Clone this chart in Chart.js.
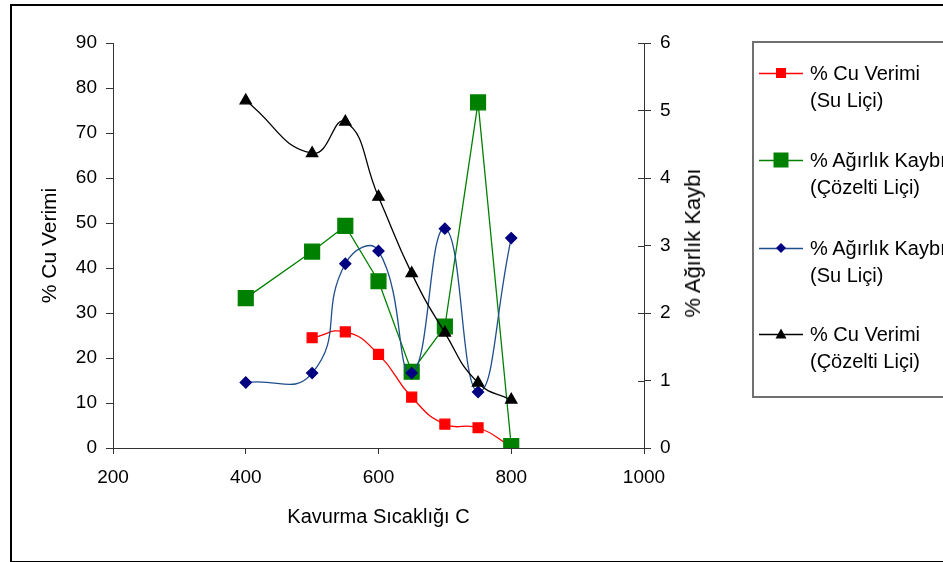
<!DOCTYPE html>
<html>
<head>
<meta charset="utf-8">
<script src="https://cdn.jsdelivr.net/npm/chart.js@4"></script>
<style>
  body { margin: 0; width: 943px; height: 562px; overflow: hidden; background: #fff; font-family: "Liberation Sans", Arial, sans-serif; }
  #frame { position: absolute; left: 10px; top: 4px; width: 1000px; height: 555px; border: 2px solid #000; }
  #chart { position: absolute; left: 0; top: 0; }
  #legendBox { position: absolute; left: 752px; top: 41px; width: 300px; height: 353px; border: 2px solid #707070; }
  .entry { position: absolute; left: 0; }
  .entry svg { position: absolute; left: 759px; }
  .entry .txt { position: absolute; left: 810px; font-size: 20px; line-height: 27px; white-space: nowrap; color: #000; }
  #rightTitle { position: absolute; left: 693px; top: 243px; transform: translate(-50%, -50%) rotate(-90deg); font-size: 22px; white-space: nowrap; color: #000; }
</style>
</head>
<body>
<div id="frame"></div>
<canvas id="chart" width="943" height="562"></canvas>
<div id="legendBox"></div>
<div id="legend"></div>
<div id="rightTitle">% Ağırlık Kaybı</div>
<script>
// data
const temps = [400, 500, 550, 600, 650, 700, 750, 800];
const cuSu = [null, 24.5, 25.8, 20.8, 11.3, 5.3, 4.5, 0.3];      // % Cu Verimi (Su Liçi), left axis
const kayipCoz = [2.22, 2.91, 3.29, 2.47, 1.13, 1.80, 5.12, 0.03]; // % Ağırlık Kaybı (Çözelti Liçi), right axis
const kayipSu = [0.97, 1.11, 2.73, 2.92, 1.11, 3.25, 0.83, 3.11];  // % Ağırlık Kaybı (Su Liçi), right axis
const cuCoz = [77.2, 65.5, 72.5, 55.8, 38.8, 25.6, 14.5, 10.7];    // % Cu Verimi (Çözelti Liçi), left axis

const xTicks = [200, 400, 600, 800, 1000];
const leftTicks = [0, 10, 20, 30, 40, 50, 60, 70, 80, 90];
const rightTicks = [0, 1, 2, 3, 4, 5, 6];

const labels = ['% Cu Verimi|(Su Liçi)', '% Ağırlık Kaybı|(Çözelti Liçi)', '% Ağırlık Kaybı|(Su Liçi)', '% Cu Verimi|(Çözelti Liçi)'];

function points(values) {
    const out = [];
    values.forEach((v, i) => { if (v !== null) out.push({ x: temps[i], y: v }); });
    return out;
}

const FONT = '"Liberation Sans", Arial, sans-serif';
const axisColor = '#333333';
const smooth = 0.5; // Excel style smoothed lines

// right axis ticks in the picture cross the axis line, Chart.js only draws the outer half
const crossTicks = {
    id: 'crossTicks',
    afterDraw(chart) {
        const s = chart.scales.y2;
        const c = chart.ctx;
        c.save();
        c.strokeStyle = axisColor;
        c.lineWidth = 1;
        s.ticks.forEach(t => {
            const y = Math.round(s.getPixelForValue(t.value)) + 0.5;
            c.beginPath();
            c.moveTo(s.left - 6, y);
            c.lineTo(s.left, y);
            c.stroke();
        });
        c.restore();
    }
};

const ctx = document.getElementById('chart').getContext('2d');
new Chart(ctx, {
    type: 'line',
    data: {
        datasets: [
            {
                label: labels[3].replace('|', ' '),
                data: points(cuCoz),
                yAxisID: 'y',
                borderColor: '#000000',
                backgroundColor: '#000000',
                borderWidth: 1.3,
                pointStyle: 'triangle',
                pointRadius: 6.5,
                tension: smooth,
                order: 1
            },
            {
                label: labels[2].replace('|', ' '),
                data: points(kayipSu),
                yAxisID: 'y2',
                borderColor: '#1F4E8C',
                backgroundColor: '#000080',
                pointBorderColor: '#000080',
                borderWidth: 1.3,
                pointStyle: 'rectRot',
                pointRadius: 5.5,
                tension: smooth,
                order: 2
            },
            {
                label: labels[1].replace('|', ' '),
                data: points(kayipCoz),
                yAxisID: 'y2',
                borderColor: '#008000',
                backgroundColor: '#008000',
                borderWidth: 1.3,
                pointStyle: 'rect',
                pointRadius: 10.5,
                tension: 0,
                order: 3
            },
            {
                label: labels[0].replace('|', ' '),
                data: points(cuSu),
                yAxisID: 'y',
                borderColor: '#FF0000',
                backgroundColor: '#FF0000',
                borderWidth: 1.3,
                pointStyle: 'rect',
                pointRadius: 7,
                tension: smooth,
                order: 4
            }
        ]
    },
    options: {
        responsive: false,
        animation: false,
        layout: { padding: { left: 38, top: 43, right: 239, bottom: 33 } },
        plugins: {
            legend: { display: false },
            tooltip: { enabled: false }
        },
        scales: {
            x: {
                type: 'linear',
                min: 200,
                max: 1000,
                afterBuildTicks: s => { s.ticks = xTicks.map(v => ({ value: v })); },
                afterFit: s => { s.height = 81; },
                grid: { drawOnChartArea: false, drawTicks: true, tickLength: 6, color: axisColor },
                border: { display: true, color: axisColor, width: 1 },
                ticks: { color: '#000', font: { family: FONT, size: 19 }, padding: 12, maxRotation: 0, callback: v => String(v) },
                title: { display: true, text: 'Kavurma Sıcaklığı C', color: '#000', font: { family: FONT, size: 20 }, padding: 0 }
            },
            y: {
                position: 'left',
                min: 0,
                max: 90,
                afterBuildTicks: s => { s.ticks = leftTicks.map(v => ({ value: v })); },
                afterFit: s => { s.width = 75; },
                grid: { drawOnChartArea: false, drawTicks: true, tickLength: 7, color: axisColor },
                border: { display: true, color: axisColor, width: 1 },
                ticks: { color: '#000', font: { family: FONT, size: 19 }, padding: 9 },
                title: { display: true, text: '% Cu Verimi', color: '#000', font: { family: FONT, size: 21 }, padding: 0 }
            },
            y2: {
                position: 'right',
                min: 0,
                max: 6,
                afterBuildTicks: s => { s.ticks = rightTicks.map(v => ({ value: v })); },
                afterFit: s => { s.width = 60; },
                grid: { drawOnChartArea: false, drawTicks: true, tickLength: 7, color: axisColor },
                border: { display: true, color: axisColor, width: 1 },
                ticks: { color: '#000', font: { family: FONT, size: 19 }, padding: 9 }
            }
        }
    },
    plugins: [crossTicks]
});

// legend, two lines per entry like the original
const legendRows = [73, 160, 248, 334];
const legendStyle = [
    { line: '#FF0000', fill: '#FF0000', shape: 'square', size: 10 },
    { line: '#008000', fill: '#008000', shape: 'square', size: 15 },
    { line: '#1F4E8C', fill: '#000080', shape: 'diamond', size: 10 },
    { line: '#000000', fill: '#000000', shape: 'triangle', size: 11 }
];

const legend = document.getElementById('legend');
labels.forEach((text, i) => {
    const st = legendStyle[i];
    const y = legendRows[i];
    let marker = '';
    const cx = 22, cy = 10, h = st.size / 2;
    if (st.shape === 'square') {
        marker = `<rect x="${cx - h}" y="${cy - h}" width="${st.size}" height="${st.size}" fill="${st.fill}"/>`;
    } else if (st.shape === 'diamond') {
        marker = `<polygon points="${cx},${cy - h} ${cx + h},${cy} ${cx},${cy + h} ${cx - h},${cy}" fill="${st.fill}"/>`;
    } else {
        marker = `<polygon points="${cx},${cy - h} ${cx + h},${cy + h - 1} ${cx - h},${cy + h - 1}" fill="${st.fill}"/>`;
    }
    const parts = text.split('|');
    const div = document.createElement('div');
    div.className = 'entry';
    div.innerHTML =
        `<svg width="44" height="20" style="top:${y - 10}px"><line x1="0" y1="10.5" x2="44" y2="10.5" stroke="${st.line}" stroke-width="1.3"/>${marker}</svg>` +
        `<div class="txt" style="top:${y - 13.5}px">${parts[0]}<br>${parts[1]}</div>`;
    legend.appendChild(div);
});
</script>
</body>
</html>
